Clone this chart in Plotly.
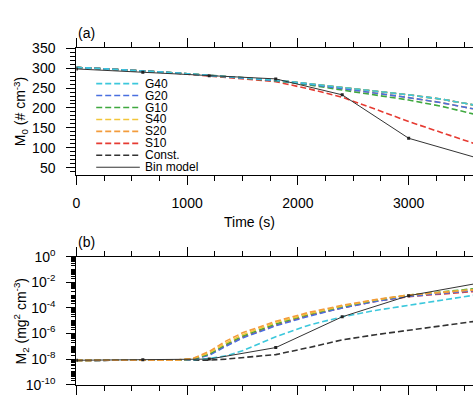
import plotly.graph_objects as go

# ---------------- data ----------------
time_a = [0, 300, 600, 900, 1200, 1500, 1800, 2100, 2400, 2700, 3000, 3300, 3600]
m0_G40 = [302, 298, 293, 288, 282, 276, 270, 261, 252, 243, 233, 222, 207]
m0_G20 = [302, 298, 293, 288, 282, 276, 269, 260, 249, 238, 226, 213, 197]
m0_G10 = [302, 298, 293, 288, 282, 275, 268, 258, 245, 233, 220, 204, 184]
m0_S40 = [302, 298, 293, 288, 282, 276, 270, 261, 252, 243, 233, 222, 207]
m0_S20 = [302, 298, 293, 288, 282, 276, 269, 260, 249, 238, 226, 213, 197]
m0_S10 = [302, 298, 293, 287, 280, 273, 266, 248, 227, 197, 166, 138, 110]
m0_Const = [302, 298, 293, 288, 282, 276, 270, 261, 252, 243, 233, 222, 207]

time_bin = [0, 600, 1200, 1800, 2400, 3000, 3600]
m0_bin = [298, 290, 281, 273, 233, 124, 76]
m2_bin = [8.1e-09, 8.9e-09, 1.0e-08, 7.9e-08, 2.0e-05, 8.9e-04, 7.6e-03]

time_b = [0, 300, 600, 900, 1050, 1200, 1350, 1500, 1800, 2100, 2400, 2700, 3000, 3300, 3600]
logm2_S20 = [-8.1, -8.1, -8.1, -8.08, -7.95, -7.4, -6.6, -5.95, -5.05, -4.35, -3.8, -3.35, -3.0, -2.8, -2.6]
logm2_S40 = [-8.1, -8.1, -8.1, -8.08, -7.97, -7.5, -6.75, -6.1, -5.15, -4.45, -3.85, -3.38, -3.0, -2.75, -2.55]
logm2_G10 = [-8.1, -8.1, -8.1, -8.09, -8.0, -7.6, -6.85, -6.2, -5.25, -4.5, -3.9, -3.4, -3.0, -2.72, -2.5]
logm2_G20 = [-8.1, -8.1, -8.1, -8.09, -8.02, -7.7, -7.0, -6.35, -5.4, -4.65, -4.0, -3.5, -3.1, -2.85, -2.65]
logm2_S10 = [-8.1, -8.1, -8.1, -8.09, -8.02, -7.65, -6.95, -6.3, -5.35, -4.6, -4.0, -3.5, -3.12, -2.9, -2.72]
logm2_G40 = [-8.1, -8.1, -8.1, -8.1, -8.06, -7.95, -7.75, -7.35, -6.25, -5.35, -4.7, -4.2, -3.8, -3.4, -3.0]
logm2_Const = [-8.1, -8.1, -8.1, -8.1, -8.1, -8.08, -8.0, -7.9, -7.65, -7.1, -6.5, -6.1, -5.75, -5.4, -5.05]

series_names = ["G40", "G20", "G10", "S40", "S20", "S10", "Const.", "Bin model"]
colors = {"G40": "#3cc8dc", "G20": "#4a6fe0", "G10": "#3fa83f", "S40": "#f2c53a",
          "S20": "#f39c3c", "S10": "#e63b32", "Const.": "#333333", "Bin model": "#333333"}

x_ticks = [0, 1000, 2000, 3000]

# --------------- figure ---------------
W, H = 473, 408
FONT = "Liberation Sans, Arial, Helvetica, sans-serif"
DASH = "6px,3px"

fig = go.Figure()

m0 = {"G40": m0_G40, "G20": m0_G20, "G10": m0_G10, "S40": m0_S40,
      "S20": m0_S20, "S10": m0_S10, "Const.": m0_Const}
m2 = {"G40": logm2_G40, "G20": logm2_G20, "G10": logm2_G10, "S40": logm2_S40,
      "S20": logm2_S20, "S10": logm2_S10, "Const.": logm2_Const}

draw_order_a = ["Const.", "S40", "S20", "S10", "G10", "G20", "G40"]
for n in draw_order_a:
    fig.add_trace(go.Scatter(x=time_a, y=m0[n], mode="lines", name=n, showlegend=False,
                             line=dict(color=colors[n], width=1.6, dash=DASH),
                             xaxis="x", yaxis="y"))
fig.add_trace(go.Scatter(x=time_bin, y=m0_bin, mode="lines+markers", showlegend=False,
                         line=dict(color=colors["Bin model"], width=1),
                         marker=dict(symbol="square", size=3, color="#222"),
                         xaxis="x", yaxis="y"))

draw_order_b = ["Const.", "G40", "S10", "G20", "G10", "S40", "S20"]
for n in draw_order_b:
    fig.add_trace(go.Scatter(x=time_b, y=[10 ** v for v in m2[n]], mode="lines", showlegend=False,
                             line=dict(color=colors[n], width=1.6, dash=DASH),
                             xaxis="x2", yaxis="y2"))
fig.add_trace(go.Scatter(x=time_bin, y=m2_bin, mode="lines+markers", showlegend=False,
                         line=dict(color=colors["Bin model"], width=1),
                         marker=dict(symbol="square", size=3, color="#222"),
                         xaxis="x2", yaxis="y2"))

def px_x(p):
    return p / W

def px_y(p):
    return 1 - p / H

xr = [0, 3581]
common_x = dict(range=xr, showline=True, linecolor="black", linewidth=1.2, mirror="ticks",
                ticks="outside", ticklen=9, tickwidth=1.2, tickcolor="black",
                tickvals=x_ticks, showgrid=False, zeroline=False,
                minor=dict(dtick=250, ticks="outside", ticklen=5, tickwidth=1, tickcolor="black", showgrid=False),
                tickfont=dict(family=FONT, size=14, color="black"), ticklabelstandoff=6)

fig.update_layout(
    width=W, height=H, margin=dict(l=0, r=0, t=0, b=0),
    paper_bgcolor="white", plot_bgcolor="white", showlegend=False,
    font=dict(family=FONT, color="black"),
    xaxis=dict(domain=[px_x(73), 1], anchor="y", **common_x),
    yaxis=dict(domain=[px_y(172.3), px_y(40)], anchor="x", range=[32.5, 350],
               showline=True, linecolor="black", linewidth=1.2, mirror=False,
               ticks="outside", ticklen=9, tickwidth=1.2, tickcolor="black",
               tickvals=[50, 100, 150, 200, 250, 300, 350], showgrid=False, zeroline=False,
               minor=dict(dtick=10, ticks="outside", ticklen=5, tickwidth=1, tickcolor="black", showgrid=False),
               tickfont=dict(family=FONT, size=14, color="black"), ticklabelstandoff=8),
    xaxis2=dict(domain=[px_x(73), 1], anchor="y2", showticklabels=False, **common_x),
    yaxis2=dict(domain=[px_y(392), px_y(258)], anchor="x2", type="log", range=[-10, 0],
                showline=True, linecolor="black", linewidth=1.2, mirror=False,
                ticks="outside", ticklen=9, tickwidth=1.2, tickcolor="black",
                tickvals=[1e-10, 1e-8, 1e-6, 1e-4, 1e-2, 1],
                ticktext=["10<sup>-10</sup>", "10<sup>-8</sup>", "10<sup>-6</sup>",
                          "10<sup>-4</sup>", "10<sup>-2</sup>", "10<sup>0</sup>"],
                showgrid=False, zeroline=False,
                minor=dict(dtick="D1", ticks="outside", ticklen=4, tickwidth=1, tickcolor="black", showgrid=False),
                tickfont=dict(family=FONT, size=14, color="black"), ticklabelstandoff=8),
)

ann = []
ann.append(dict(text="(a)", x=px_x(73), y=px_y(24), xref="paper", yref="paper",
                xanchor="left", yanchor="middle", showarrow=False, font=dict(size=14)))
ann.append(dict(text="(b)", x=px_x(73), y=px_y(243), xref="paper", yref="paper",
                xanchor="left", yanchor="middle", showarrow=False, font=dict(size=14)))
ann.append(dict(text="Time (s)", x=px_x(248), y=px_y(222), xref="paper", yref="paper",
                xanchor="center", yanchor="middle", showarrow=False, font=dict(size=14)))
ann.append(dict(text="M<sub>0</sub> (# cm<sup>-3</sup>)", x=px_x(17), y=px_y(106), xref="paper", yref="paper",
                xanchor="center", yanchor="middle", showarrow=False, textangle=-90, font=dict(size=14)))
ann.append(dict(text="M<sub>2</sub> (mg<sup>2</sup> cm<sup>-3</sup>)", x=px_x(17), y=px_y(325), xref="paper", yref="paper",
                xanchor="center", yanchor="middle", showarrow=False, textangle=-90, font=dict(size=14)))

# manual legend
shapes = []
row_y = [77, 89.5, 102, 114.5, 127, 139.5, 152, 164.5]
for i, n in enumerate(series_names):
    yy = px_y(row_y[i])
    dash = "solid" if n == "Bin model" else DASH
    shapes.append(dict(type="line", xref="paper", yref="paper", x0=px_x(93), x1=px_x(137),
                       y0=yy, y1=yy, line=dict(color=colors[n], width=1.6 if n != "Bin model" else 1, dash=dash)))
    ann.append(dict(text=n, x=px_x(140), y=yy, xref="paper", yref="paper", xanchor="left",
                    yanchor="middle", showarrow=False, font=dict(size=12)))

fig.update_layout(annotations=ann, shapes=shapes)
fig.write_html("out.html")
